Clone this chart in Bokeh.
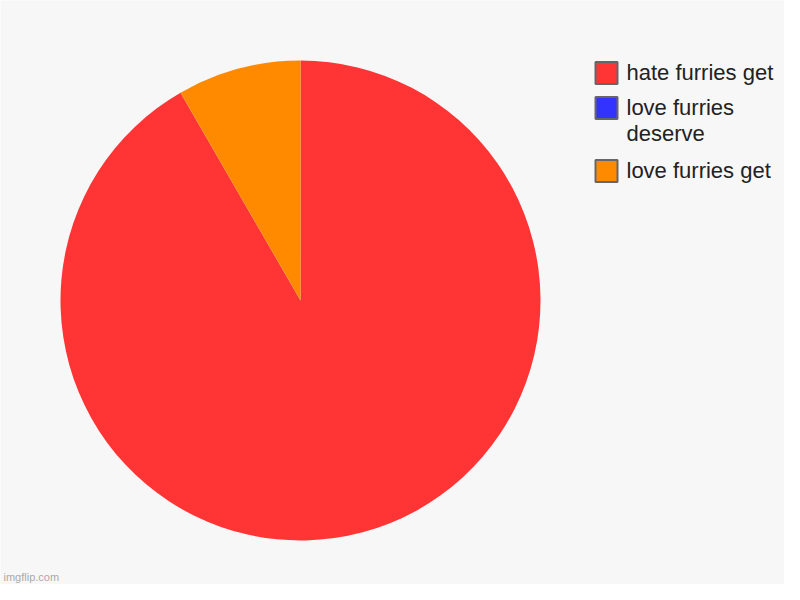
import math
from bokeh.plotting import figure
from bokeh.models import ColumnDataSource, Range1d
from bokeh.core.properties import value
from bokeh.embed import file_html
from bokeh.resources import INLINE

# ---- data ----
labels = ["hate furries get", "love furries\ndeserve", "love furries get"]
values = [11, 0, 1]
colors = ["#ff3535", "#3333ff", "#ff8a00"]

W, H = 784, 584
BG = "#f7f7f7"

p = figure(width=W, height=H, output_backend="svg", toolbar_location=None,
           x_range=Range1d(0, W), y_range=Range1d(0, H),
           min_border=0, background_fill_color=BG, border_fill_color=BG)
p.axis.visible = False
p.grid.visible = False
p.outline_line_color = None

# pie geometry (pixel coords, y up)
cx, cy, r = 300, H - 300, 240
total = sum(values)
starts, ends = [], []
ang = math.pi / 2
for v in values:
    starts.append(ang)
    ang -= 2 * math.pi * v / total
    ends.append(ang)
keep = [i for i, v in enumerate(values) if v > 0]
src = ColumnDataSource(dict(
    x=[cx] * len(keep), y=[cy] * len(keep),
    start=[starts[i] for i in keep], end=[ends[i] for i in keep],
    color=[colors[i] for i in keep]))
p.wedge(x="x", y="y", radius=r, start_angle="start", end_angle="end",
        direction="clock", fill_color="color", line_color=None, source=src)

# legend
row_tops = [61, 96, 159]  # px tops of swatches
sw_x = 606
lsrc = ColumnDataSource(dict(
    x=[sw_x] * len(labels),
    y=[H - (t + 11.5) for t in row_tops],
    color=colors,
    tx=[626] * len(labels),
    ty=[H - (t - 2) for t in row_tops],
    label=labels))
p.rect(x="x", y="y", width=22, height=22, fill_color="color",
       line_color="#666666", line_width=2, source=lsrc)
p.text(x="tx", y="ty", text="label", text_font=value("Liberation Sans"),
       text_font_size="22px", text_color="#222222", text_baseline="top",
       text_align="left", text_line_height=1.05, source=lsrc)

p.text(x=[3], y=[H - 576], text=["imgflip.com"],
       text_font=value("Liberation Sans"), text_font_size="11px",
       text_color="#aaaaaa", text_baseline="middle", text_align="left")

open("out.html", "w").write(file_html(p, INLINE))
